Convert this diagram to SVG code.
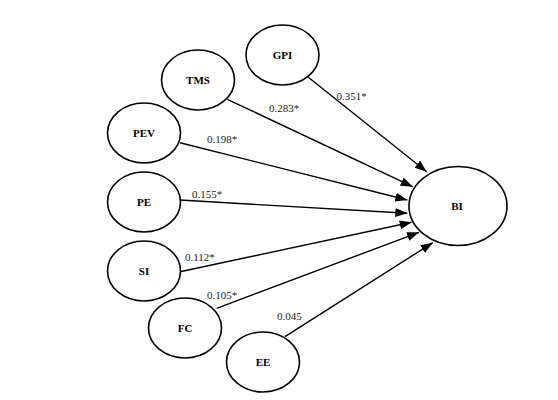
<svg xmlns="http://www.w3.org/2000/svg" width="558" height="400" viewBox="0 0 558 400">
<style>
.n ellipse{fill:#fff;stroke:#000;stroke-width:1.6}
.n text{font-family:"Liberation Serif","Times New Roman",serif;font-weight:bold;font-size:11px;text-anchor:middle;fill:#000}
.c line{stroke:#000;stroke-width:1.4}
.l{font-family:"Liberation Serif","Times New Roman",serif;font-size:11px;fill:#222}
</style>
<defs>
<marker id="ah" markerUnits="userSpaceOnUse" markerWidth="13" markerHeight="10" refX="12" refY="4.5" orient="auto">
<path d="M0,0 L12,4.5 L0,9 z" fill="#000"/>
</marker>
</defs>
<rect width="558" height="400" fill="#fff"/>
<g class="c">
<line x1="308.3" y1="77.3" x2="426.7" y2="171.7" marker-end="url(#ah)"/>
<line x1="227.3" y1="99.3" x2="412.7" y2="186.7" marker-end="url(#ah)"/>
<line x1="180" y1="142.7" x2="407.3" y2="200" marker-end="url(#ah)"/>
<line x1="180" y1="200" x2="407.3" y2="213.3" marker-end="url(#ah)"/>
<line x1="180" y1="271.7" x2="411.7" y2="222.3" marker-end="url(#ah)"/>
<line x1="216.7" y1="308.3" x2="419" y2="232.3" marker-end="url(#ah)"/>
<line x1="285" y1="336.7" x2="432.7" y2="242.7" marker-end="url(#ah)"/>
</g>
<g id="GPI" class="n"><ellipse cx="282.5" cy="55" rx="36.5" ry="30"/><text x="282.5" y="58.5">GPI</text></g>
<g id="TMS" class="n"><ellipse cx="198" cy="80" rx="36.5" ry="30"/><text x="198" y="83.5">TMS</text></g>
<g id="PEV" class="n"><ellipse cx="144" cy="133" rx="36.5" ry="30"/><text x="144" y="136.5">PEV</text></g>
<g id="PE" class="n"><ellipse cx="144" cy="202" rx="36.5" ry="30"/><text x="144" y="205.5">PE</text></g>
<g id="SI" class="n"><ellipse cx="144" cy="271" rx="36.5" ry="30"/><text x="144" y="274.5">SI</text></g>
<g id="FC" class="n"><ellipse cx="185" cy="328" rx="36.5" ry="30"/><text x="185" y="331.5">FC</text></g>
<g id="EE" class="n"><ellipse cx="263" cy="362" rx="36.5" ry="30"/><text x="263" y="365.5">EE</text></g>
<g id="BI" class="n"><ellipse cx="458" cy="206" rx="49" ry="39.5"/><text x="457" y="209.5">BI</text></g>
<g id="labels">
<text class="l" x="336.5" y="100">0.351*</text>
<text class="l" x="269" y="112">0.283*</text>
<text class="l" x="207" y="143">0.198*</text>
<text class="l" x="192" y="198">0.155*</text>
<text class="l" x="185" y="261">0.112*</text>
<text class="l" x="207" y="299">0.105*</text>
<text class="l" x="277" y="320">0.045</text>
</g>
</svg>
